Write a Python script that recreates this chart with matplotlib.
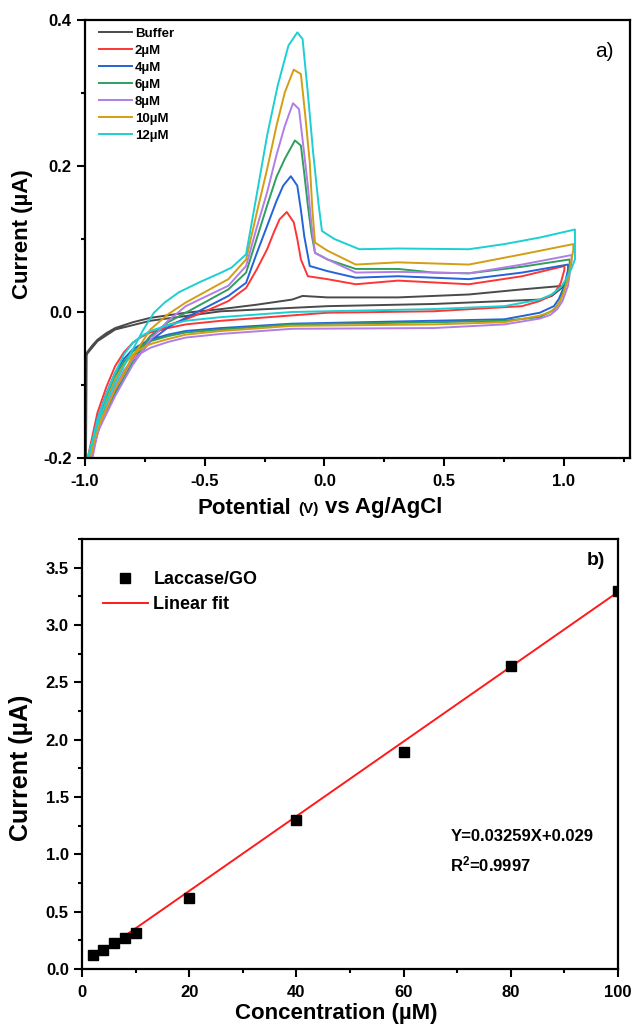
import matplotlib
matplotlib.use("Agg")
import matplotlib.pyplot as plt
from matplotlib.ticker import MultipleLocator, FormatStrFormatter
from matplotlib.offsetbox import TextArea, HPacker, AnchoredOffsetbox

plt.rcParams['font.family'] = ['Liberation Sans', 'DejaVu Sans']
plt.rcParams['font.weight'] = 'bold'
plt.rcParams['axes.unicode_minus'] = False
plt.rcParams['mathtext.fontset'] = 'custom'
plt.rcParams['mathtext.rm'] = 'Liberation Sans:bold'
plt.rcParams['mathtext.bf'] = 'Liberation Sans:bold'
plt.rcParams['mathtext.it'] = 'Liberation Sans:bold'

# ---------------- Panel a) cyclic voltammograms (V, uA) ----------------
cv_labels = ["Buffer", "2\u00b5M", "4\u00b5M", "6\u00b5M", "8\u00b5M", "10\u00b5M", "12\u00b5M"]
cv_colors = ["#4a4a4a", "#ff3535", "#2463d8", "#2f9e5e", "#b07ee6", "#d39e12", "#1ccfd2"]

buffer_v = [-0.996, -0.993, -0.970, -0.948, -0.911, -0.874, -0.800, -0.727, -0.579, -0.431, -0.283, -0.135, -0.091,
            0.013, 0.308, 0.604, 0.826, 1.003,
            0.950, 0.900, 0.456, 0.013, -0.431, -0.727, -0.874, -0.948, -0.993]
buffer_i = [-0.205, -0.056, -0.046, -0.038, -0.029, -0.022, -0.014, -0.008, -0.001, 0.004, 0.010, 0.017, 0.022,
            0.020, 0.020, 0.024, 0.031, 0.036,
            0.022, 0.017, 0.011, 0.008, 0.001, -0.012, -0.024, -0.040, -0.058]

c2_v = [-0.978, -0.941, -0.874, -0.800, -0.727, -0.653, -0.579, -0.490, -0.401, -0.327, -0.283, -0.239, -0.210,
        -0.187, -0.157, -0.128, -0.113, -0.098, -0.069, 0.013, 0.131, 0.308, 0.604, 0.826, 1.003,
        1.003, 0.988, 0.966, 0.944, 0.900, 0.826, 0.456, 0.013, -0.431, -0.579, -0.653, -0.727, -0.764, -0.800,
        -0.837, -0.874, -0.911, -0.948, -0.992]
c2_i = [-0.200, -0.150, -0.106, -0.062, -0.033, -0.018, -0.010, 0.002, 0.015, 0.033, 0.058, 0.086, 0.110,
        0.127, 0.137, 0.123, 0.100, 0.072, 0.049, 0.045, 0.038, 0.043, 0.038, 0.049, 0.063,
        0.058, 0.040, 0.028, 0.022, 0.015, 0.008, 0.001, -0.001, -0.012, -0.017, -0.022, -0.028, -0.034, -0.042,
        -0.055, -0.074, -0.103, -0.138, -0.205]

c4_v = [-0.978, -0.941, -0.874, -0.800, -0.727, -0.653, -0.579, -0.490, -0.401, -0.327, -0.283, -0.239, -0.200,
        -0.172, -0.140, -0.113, -0.098, -0.084, -0.061, 0.013, 0.131, 0.308, 0.604, 0.826, 1.018,
        1.018, 1.003, 0.980, 0.959, 0.900, 0.752, 0.456, -0.135, -0.431, -0.579, -0.653, -0.727, -0.764, -0.800,
        -0.837, -0.874, -0.911, -0.948, -0.987]
c4_i = [-0.200, -0.155, -0.111, -0.070, -0.040, -0.021, -0.008, 0.007, 0.022, 0.040, 0.080, 0.118, 0.152,
        0.173, 0.186, 0.173, 0.140, 0.104, 0.063, 0.056, 0.047, 0.049, 0.045, 0.054, 0.065,
        0.058, 0.036, 0.018, 0.008, -0.001, -0.010, -0.012, -0.016, -0.022, -0.026, -0.031, -0.038, -0.044, -0.051,
        -0.064, -0.083, -0.112, -0.147, -0.205]

c6_v = [-0.978, -0.941, -0.874, -0.800, -0.727, -0.653, -0.579, -0.490, -0.401, -0.327, -0.283, -0.239, -0.200,
        -0.165, -0.123, -0.098, -0.084, -0.069, -0.054, -0.039, 0.013, 0.131, 0.308, 0.456, 0.604, 0.826, 1.025,
        1.025, 1.010, 0.985, 0.960, 0.900, 0.752, 0.456, -0.135, -0.431, -0.579, -0.653, -0.727, -0.764, -0.800,
        -0.837, -0.874, -0.911, -0.948, -0.978]
c6_i = [-0.200, -0.158, -0.113, -0.068, -0.033, -0.014, -0.001, 0.015, 0.031, 0.054, 0.100, 0.146, 0.185,
        0.210, 0.235, 0.228, 0.190, 0.146, 0.108, 0.081, 0.072, 0.059, 0.059, 0.054, 0.053, 0.062, 0.072,
        0.062, 0.040, 0.015, 0.003, -0.007, -0.012, -0.014, -0.017, -0.024, -0.028, -0.033, -0.040, -0.046, -0.054,
        -0.068, -0.088, -0.118, -0.152, -0.205]

c8_v = [-0.978, -0.941, -0.874, -0.800, -0.727, -0.653, -0.579, -0.490, -0.401, -0.327, -0.283, -0.239, -0.200,
        -0.165, -0.131, -0.106, -0.087, -0.069, -0.054, -0.039, 0.013, 0.131, 0.308, 0.604, 0.826, 1.033,
        1.033, 1.018, 0.995, 0.973, 0.944, 0.900, 0.752, 0.456, -0.135, -0.431, -0.579, -0.653, -0.727, -0.764,
        -0.800, -0.837, -0.874, -0.911, -0.948, -0.972]
c8_i = [-0.200, -0.160, -0.115, -0.072, -0.038, -0.012, 0.008, 0.022, 0.036, 0.063, 0.115, 0.164, 0.215,
        0.255, 0.286, 0.278, 0.225, 0.173, 0.120, 0.081, 0.072, 0.054, 0.055, 0.053, 0.065, 0.078,
        0.070, 0.036, 0.015, 0.004, -0.004, -0.009, -0.017, -0.022, -0.023, -0.030, -0.035, -0.041, -0.049, -0.056,
        -0.065, -0.080, -0.102, -0.132, -0.166, -0.205]

c10_v = [-0.985, -0.941, -0.874, -0.808, -0.727, -0.653, -0.579, -0.490, -0.401, -0.327, -0.283, -0.239, -0.200,
         -0.165, -0.128, -0.098, -0.080, -0.061, -0.050, -0.039, 0.013, 0.131, 0.308, 0.604, 0.826, 1.040,
         1.040, 1.018, 0.995, 0.973, 0.944, 0.900, 0.752, 0.456, -0.135, -0.431, -0.579, -0.653, -0.727, -0.764,
         -0.800, -0.837, -0.874, -0.911, -0.948, -0.980]
c10_i = [-0.200, -0.155, -0.106, -0.065, -0.024, -0.003, 0.013, 0.029, 0.045, 0.072, 0.135, 0.196, 0.255,
         0.301, 0.332, 0.326, 0.270, 0.205, 0.140, 0.095, 0.084, 0.065, 0.068, 0.065, 0.079, 0.093,
         0.085, 0.045, 0.022, 0.008, 0.000, -0.005, -0.014, -0.017, -0.019, -0.026, -0.031, -0.037, -0.044, -0.050,
         -0.058, -0.072, -0.092, -0.122, -0.157, -0.205]

c12_v = [-0.990, -0.941, -0.874, -0.808, -0.756, -0.712, -0.667, -0.608, -0.520, -0.431, -0.387, -0.327, -0.283,
         -0.239, -0.195, -0.150, -0.113, -0.091, -0.069, -0.047, -0.025, -0.010, 0.042, 0.146, 0.308, 0.604,
         0.752, 0.900, 1.047,
         1.047, 1.033, 1.010, 0.988, 0.950, 0.900, 0.752, 0.456, -0.135, -0.431, -0.579, -0.653, -0.727, -0.764,
         -0.800, -0.837, -0.874, -0.911, -0.948, -0.993]
c12_i = [-0.200, -0.147, -0.097, -0.056, -0.024, -0.001, 0.013, 0.027, 0.041, 0.054, 0.061, 0.079, 0.160,
         0.242, 0.310, 0.365, 0.383, 0.374, 0.300, 0.219, 0.150, 0.111, 0.100, 0.086, 0.087, 0.086,
         0.093, 0.102, 0.113,
         0.072, 0.060, 0.045, 0.034, 0.024, 0.017, 0.008, 0.004, 0.000, -0.007, -0.012, -0.018, -0.026, -0.033,
         -0.042, -0.058, -0.083, -0.113, -0.147, -0.210]

cv_v = [buffer_v, c2_v, c4_v, c6_v, c8_v, c10_v, c12_v]
cv_i = [buffer_i, c2_i, c4_i, c6_i, c8_i, c10_i, c12_i]

# ---------------- Panel b) calibration ----------------
conc = [2, 4, 6, 8, 10, 20, 40, 60, 80, 100]
current = [0.12, 0.17, 0.23, 0.27, 0.31, 0.62, 1.30, 1.89, 2.64, 3.30]
fit_x = [2, 100]
fit_y = [0.094, 3.288]
eq_text = "Y=0.03259X+0.029"
r2_text = r"R$^{2}$=0.9997"

W, H = 633, 1025
fig = plt.figure(figsize=(W / 100, H / 100), dpi=100)

ax1 = fig.add_axes([85 / W, 1 - 458 / H, (630 - 85) / W, (458 - 20) / H])
ax2 = fig.add_axes([82 / W, 1 - 969 / H, (618 - 82) / W, (969 - 539) / H])


def style_axes(ax):
    for s in ax.spines.values():
        s.set_linewidth(1.6)
    ax.tick_params(which='major', direction='out', length=5.5, width=1.5, top=False, right=False,
                   labelsize=12, pad=4)
    ax.tick_params(which='minor', direction='out', length=3, width=1.5, top=False, right=False)
    for lab in ax.get_xticklabels() + ax.get_yticklabels():
        lab.set_fontweight('bold')


for v, i, c, lab in zip(cv_v, cv_i, cv_colors, cv_labels):
    ax1.plot(v, i, color=c, lw=1.4, label=lab)

ax1.set_xlim(-1.0, 1.277)
ax1.set_ylim(-0.2, 0.4)
ax1.xaxis.set_major_locator(MultipleLocator(0.5))
ax1.xaxis.set_minor_locator(MultipleLocator(0.25))
ax1.yaxis.set_major_locator(MultipleLocator(0.2))
ax1.yaxis.set_minor_locator(MultipleLocator(0.1))
ax1.xaxis.set_major_formatter(FormatStrFormatter('%.1f'))
ax1.yaxis.set_major_formatter(FormatStrFormatter('%.1f'))
style_axes(ax1)
ax1.tick_params(axis='x', which='major', pad=6)
ax1.set_ylabel("Current (\u00b5A)", fontsize=16, fontweight='bold')
ax1.yaxis.set_label_coords(-0.095, 0.51)

ax1.legend(loc='upper left', bbox_to_anchor=(0.026, 0.983), frameon=False,
           prop={'size': 9.5, 'weight': 'bold'}, handlelength=2.5, handletextpad=0.2,
           labelspacing=0.36, borderpad=0, borderaxespad=0)
ax1.text(0.953, 0.927, "a)", transform=ax1.transAxes, fontsize=15, fontweight='normal',
         ha='center', va='center')

parts = [TextArea("Potential", textprops=dict(fontsize=16, fontweight='bold')),
         TextArea("(V)", textprops=dict(fontsize=11, fontweight='bold')),
         TextArea("vs Ag/AgCl", textprops=dict(fontsize=16, fontweight='bold'))]
box = HPacker(children=parts, align="baseline", pad=0, sep=5)
anch = AnchoredOffsetbox(loc='center', child=box, pad=0, frameon=False, borderpad=0,
                         bbox_to_anchor=(320 / W, 1 - 508 / H), bbox_transform=fig.transFigure)
fig.add_artist(anch)

# Panel b
ax2.plot(conc, current, linestyle='none', marker='s', markersize=7, color='black',
         label='Laccase/GO', clip_on=True, zorder=3)
ax2.plot(fit_x, fit_y, color='#ff1a1a', lw=1.4, label='Linear fit', zorder=2)
ax2.set_xlim(0, 100)
ax2.set_ylim(0, 3.75)
ax2.xaxis.set_major_locator(MultipleLocator(20))
ax2.xaxis.set_minor_locator(MultipleLocator(10))
ax2.yaxis.set_major_locator(MultipleLocator(0.5))
ax2.yaxis.set_minor_locator(MultipleLocator(0.25))
ax2.yaxis.set_major_formatter(FormatStrFormatter('%.1f'))
style_axes(ax2)
ax2.tick_params(axis='x', which='major', pad=6)
ax2.set_ylabel("Current (\u00b5A)", fontsize=18, fontweight='bold')
ax2.yaxis.set_label_coords(-0.091, 0.467)
ax2.set_xlabel("Concentration (\u00b5M)", fontsize=16, fontweight='bold')
ax2.xaxis.set_label_coords(0.474, -0.08)

ax2.legend(loc='upper left', bbox_to_anchor=(0.039, 0.925), frameon=False,
           prop={'size': 13, 'weight': 'bold'}, handlelength=2.5, handletextpad=0.3,
           labelspacing=0.44, borderpad=0, borderaxespad=0)
ax2.text(0.958, 0.951, "b)", transform=ax2.transAxes, fontsize=14, fontweight='bold',
         ha='center', va='center')
ax2.text(0.687, 0.309, eq_text, transform=ax2.transAxes, fontsize=12, fontweight='bold',
         ha='left', va='center')
ax2.text(0.687, 0.242, r2_text, transform=ax2.transAxes, fontsize=12, fontweight='bold',
         ha='left', va='center')

fig.savefig("out.png", dpi=100)
